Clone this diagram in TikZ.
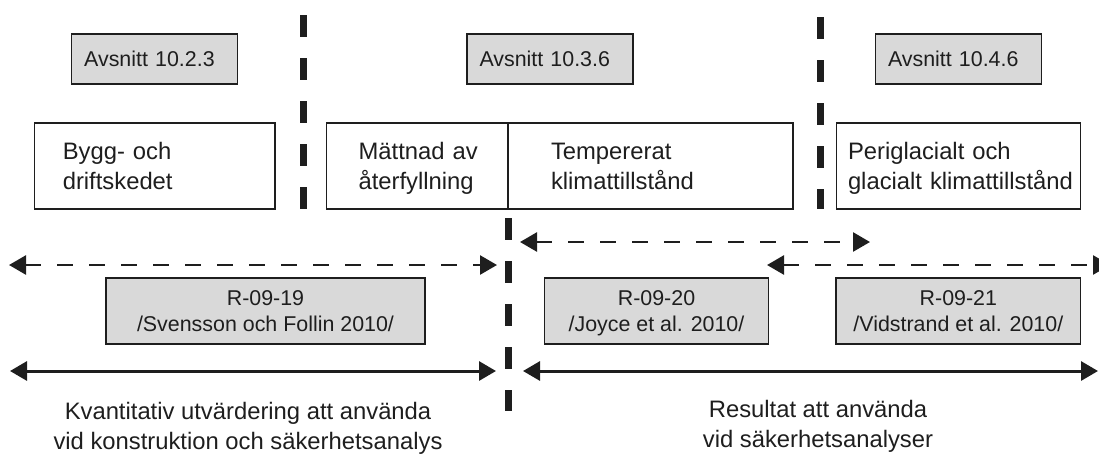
\documentclass[tikz,border=0pt]{standalone}
\usepackage{fontspec}
\setmainfont{Liberation Sans}
\usetikzlibrary{arrows.meta}

\definecolor{boxgray}{HTML}{D9D9D9}
\definecolor{ink}{HTML}{1E1E1E}
\newcommand\linestrut{\rule[-0.25em]{0pt}{1.2em}}
\newcommand\bigfont{\fontsize{23.8}{27.3}\selectfont\hyphenpenalty=10000\relax}
\newcommand\smallfont{\fontsize{21.4}{26.5}\selectfont}

\begin{document}
\begin{tikzpicture}
[
	                x = 1pt,
	                y = -1pt,
	               >= {Triangle[length=17pt,width=19pt]},
	   secbox/.style = { draw=ink, fill=boxgray, line width=1.2pt, minimum height=50pt, inner xsep=12.5pt, inner ysep=0pt, text width=141pt, align=left, font=\smallfont, text=ink },
	 phasebox/.style = { draw=ink, fill=white, line width=1.2pt, minimum height=86pt, inner ysep=0pt, align=left, font=\bigfont, text=ink },
	   refbox/.style = { draw=ink, fill=boxgray, line width=1.2pt, minimum height=66pt, inner sep=0pt, align=center, font=\smallfont, text=ink },
	 notetext/.style = { inner sep=0pt, align=center, font=\bigfont, text=ink },
	  sepline/.style = { ink, line width=7pt, dash pattern=on 21.5pt off 21.5pt },
	 dashspan/.style = { ink, line width=2.6pt, <->, dash pattern=on 16pt off 16pt },
	solidspan/.style = { ink, line width=3pt, <-> }
]
	\useasboundingbox (0,0) rectangle (1099,453);
	\clip (0,0) rectangle (1099,453);

	% sections
	\node (sec1) at (154.7,59)  [secbox] {Avsnitt 10.2.3};
	\node (sec2) at (550,59)    [secbox] {Avsnitt 10.3.6};
	\node (sec3) at (958.5,59)  [secbox] {Avsnitt 10.4.6};

	% phases
	\node (bygg) at (154.65,166) [phasebox, inner xsep=28.5pt, text width=183.7pt] {\linestrut Bygg- och\\\linestrut driftskedet};
	\node (matt) at (417.15,166) [phasebox, inner xsep=32.3pt, text width=117.1pt] {\linestrut Mättnad~av\\\linestrut återfyllning};
	\node (temp) at (650.45,166) [phasebox, inner xsep=43pt, text width=198.9pt]   {\linestrut Tempererat\\\linestrut klimattillstånd};
	\node (peri) at (958.5,166)  [phasebox, inner xsep=11.5pt, text width=221pt]   {\linestrut Periglacialt och\\\linestrut glacialt~klimattillstånd};

	% reports
	\node (r19) at (265.5,311)  [refbox, minimum width=319pt]   {\linestrut R-09-19\\\linestrut /Svensson och Follin 2010/};
	\node (r20) at (656.5,311)  [refbox, minimum width=224.4pt] {\linestrut R-09-20\\\linestrut /Joyce et al. 2010/};
	\node (r21) at (958.35,311) [refbox, minimum width=244.7pt] {\linestrut R-09-21\\\linestrut /Vidstrand et al. 2010/};

	% notes
	\node (quant)  at (248,426.2) [notetext] {\linestrut Kvantitativ utvärdering att använda\\\linestrut vid konstruktion och säkerhetsanalys};
	\node (result) at (818,424.2) [notetext] {\linestrut Resultat att använda\\\linestrut vid säkerhetsanalyser};

	% separators
	\coordinate (v1a) at (303,15);  \coordinate (v1b) at (303,209);
	\coordinate (v2a) at (508,218); \coordinate (v2b) at (508,411);
	\coordinate (v3a) at (820,17);  \coordinate (v3b) at (820,209);
	\draw [sepline] (v1a) -- (v1b);
	\draw [sepline] (v2a) -- (v2b);
	\draw [sepline] (v3a) -- (v3b);

	% spans
	\coordinate (d1a) at (9,265);   \coordinate (d1b) at (497,265);
	\coordinate (d2a) at (520,242); \coordinate (d2b) at (870,242);
	\coordinate (d3a) at (767,265); \coordinate (d3b) at (1110,265);
	\coordinate (s1a) at (10,371);  \coordinate (s1b) at (496,371);
	\coordinate (s2a) at (523,371); \coordinate (s2b) at (1098,371);
	\draw [dashspan] (d1a) -- (d1b);
	\draw [dashspan] (d2a) -- (d2b);
	\draw [dashspan] (d3a) -- (d3b);
	\draw [solidspan] (s1a) -- (s1b);
	\draw [solidspan] (s2a) -- (s2b);

\end{tikzpicture}
\end{document}
